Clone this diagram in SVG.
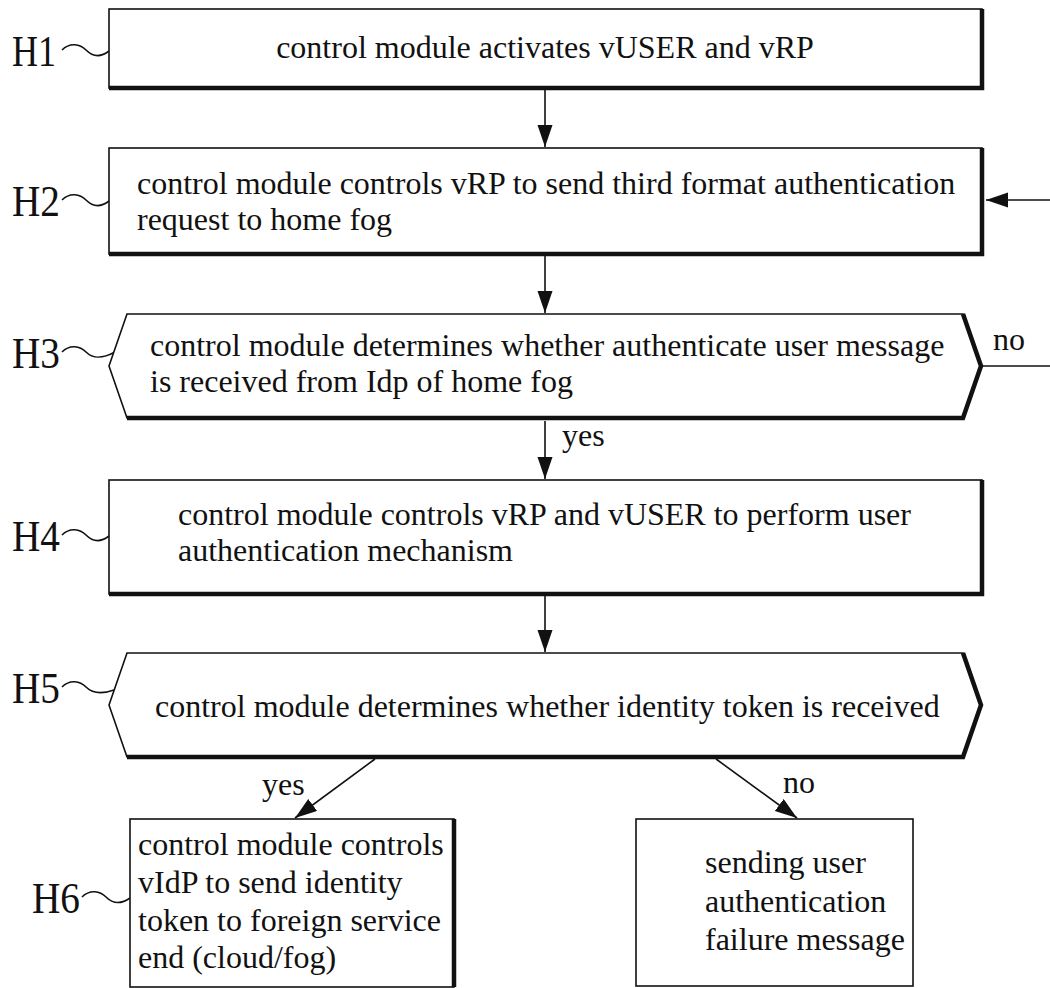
<svg xmlns="http://www.w3.org/2000/svg" width="1050" height="988" viewBox="0 0 1050 988">
<style>
.t{font-family:"Liberation Serif","Times New Roman",serif;font-size:32px;fill:#111}
.lbl{font-family:"Liberation Serif","Times New Roman",serif;font-size:44px;fill:#111}
.thin{fill:#fff;stroke:#111;stroke-width:1.6}
.thick{fill:none;stroke:#111;stroke-width:4.5;stroke-linejoin:miter}
.sq{fill:none;stroke:#111;stroke-width:1.6}
.con{fill:none;stroke:#111;stroke-width:1.6}
</style>
<defs>
<marker id="ah" markerUnits="userSpaceOnUse" markerWidth="24" markerHeight="16" refX="22" refY="7.5" orient="auto">
<path d="M0,0 L22,7.5 L0,15 z" fill="#111"/>
</marker>
</defs>
<g id="connectors">
<line class="con" x1="545" y1="90" x2="545" y2="147" marker-end="url(#ah)"/>
<line class="con" x1="545" y1="256" x2="545" y2="313" marker-end="url(#ah)"/>
<line class="con" x1="545" y1="421" x2="545" y2="479" marker-end="url(#ah)"/>
<line class="con" x1="545" y1="596" x2="545" y2="652" marker-end="url(#ah)"/>
<line class="con" x1="375" y1="759" x2="295" y2="818" marker-end="url(#ah)"/>
<line class="con" x1="716" y1="759" x2="797" y2="818" marker-end="url(#ah)"/>
<line class="con" x1="982" y1="366" x2="1050" y2="366"/>
<line class="con" x1="1050" y1="200" x2="986" y2="200" marker-end="url(#ah)"/>
<text class="t" x="562" y="446">yes</text>
<text class="t" x="993" y="350">no</text>
<text class="t" x="262" y="795">yes</text>
<text class="t" x="783" y="793">no</text>
</g>
<g id="H1">
<text class="lbl" x="12" y="66" textLength="44" lengthAdjust="spacingAndGlyphs">H1</text>
<path class="sq" d="M62,50 C70,42 80,44 86,50 S100,58 109,51"/>
<rect class="thin" x="109" y="9" width="873" height="79"/>
<polyline class="thick" points="982,9 982,88 109,88"/>
<text class="t" x="545" y="58" text-anchor="middle">control module activates vUSER and vRP</text>
</g>
<g id="H2">
<text class="lbl" x="12" y="216" textLength="48" lengthAdjust="spacingAndGlyphs">H2</text>
<path class="sq" d="M62,200 C70,192 80,194 86,200 S100,208 109,201"/>
<rect class="thin" x="109" y="148" width="873" height="106"/>
<polyline class="thick" points="982,148 982,254 109,254"/>
<text class="t" x="137" y="194">control module controls vRP to send third format authentication</text>
<text class="t" x="137" y="230">request to home fog</text>
</g>
<g id="H3">
<text class="lbl" x="12" y="368" textLength="48" lengthAdjust="spacingAndGlyphs">H3</text>
<path class="sq" d="M62,352 C70,344 80,346 86,352 S100,360 115,352"/>
<polygon class="thin" points="127,314 963,314 981,366 963,418 127,418 109,366"/>
<polyline class="thick" points="963,314 981,366 963,418 127,418"/>
<text class="t" x="150" y="356">control module determines whether authenticate user message</text>
<text class="t" x="150" y="392">is received from Idp of home fog</text>
</g>
<g id="H4">
<text class="lbl" x="12" y="551" textLength="48" lengthAdjust="spacingAndGlyphs">H4</text>
<path class="sq" d="M62,535 C70,527 80,529 86,535 S100,543 109,536"/>
<rect class="thin" x="109" y="480" width="873" height="114"/>
<polyline class="thick" points="982,480 982,594 109,594"/>
<text class="t" x="178" y="525">control module controls vRP and vUSER to perform user</text>
<text class="t" x="178" y="561">authentication mechanism</text>
</g>
<g id="H5">
<text class="lbl" x="12" y="703" textLength="48" lengthAdjust="spacingAndGlyphs">H5</text>
<path class="sq" d="M62,687 C70,679 80,681 86,687 S100,695 114,690"/>
<polygon class="thin" points="127,653 963,653 981,705 963,757 127,757 109,705"/>
<polyline class="thick" points="963,653 981,705 963,757 127,757"/>
<text class="t" x="155" y="717">control module determines whether identity token is received</text>
</g>
<g id="H6">
<text class="lbl" x="32" y="913" textLength="48" lengthAdjust="spacingAndGlyphs">H6</text>
<path class="sq" d="M82,897 C90,889 100,891 106,897 S120,905 130,898"/>
<rect class="thin" x="130" y="819" width="324" height="168"/>
<polyline class="thick" points="454,819 454,987"/>
<text class="t" x="138" y="855">control module controls</text>
<text class="t" x="138" y="893">vIdP to send identity</text>
<text class="t" x="138" y="931">token to foreign service</text>
<text class="t" x="138" y="968">end (cloud/fog)</text>
</g>
<g id="H7">
<rect class="thin" x="636" y="819" width="277" height="167"/>
<text class="t" x="705" y="873">sending user</text>
<text class="t" x="705" y="912">authentication</text>
<text class="t" x="705" y="950">failure message</text>
</g>
</svg>
